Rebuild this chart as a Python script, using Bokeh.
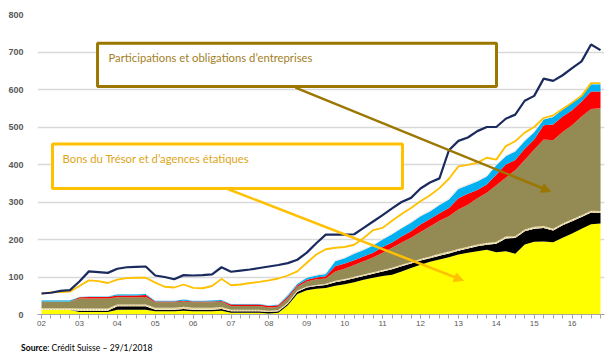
from bokeh.plotting import figure
from bokeh.layouts import column
from bokeh.models import (ColumnDataSource, Range1d, FixedTicker, BoxAnnotation,
                          Label, Arrow, NormalHead, Div)
from bokeh.transform import stack
from bokeh.core.properties import value
from bokeh.embed import file_html
from bokeh.resources import INLINE

# ---------------- data (quarterly, 2002Q1 .. 2016Q4) ----------------
quarters = [2002 + 0.25 * i for i in range(60)]
year_ticks = list(range(2002, 2017))
year_labels = ["02", "03", "04", "05", "06", "07", "08", "09", "10", "11",
               "12", "13", "14", "15", "16"]
y_ticks = [0, 100, 200, 300, 400, 500, 600, 700, 800]

# stacked layers (bottom -> top)
tresor = [12, 12, 12, 12, 7, 7, 7, 7, 13, 13, 13, 13, 9, 9, 9, 10, 9, 9, 9, 10,
          5, 5, 5, 5, 3, 5, 25, 55, 65, 69, 71, 77, 81, 86, 93, 98, 103, 106, 115, 124,
          133, 141, 147, 153, 160, 165, 169, 173, 166, 169, 162, 187, 194, 195, 193, 205, 216, 229, 241, 243]
noir = [0, 0, 0, 0, 3, 3, 3, 3, 9, 9, 9, 9, 4, 4, 4, 5, 4, 4, 4, 5,
        4, 4, 4, 4, 4, 4, 4, 6, 7, 7, 8, 9, 10, 11, 10, 11, 12, 15, 14, 12,
        11, 9, 10, 10, 10, 11, 13, 13, 23, 34, 42, 35, 35, 36, 31, 33, 33, 31, 31, 28]
rayure = [5, 5, 5, 5, 6, 6, 6, 6, 5, 5, 5, 5, 5, 5, 5, 6, 5, 5, 5, 5,
          4, 4, 4, 4, 3, 3, 3, 3, 3, 3, 3, 4, 4, 4, 4, 4, 4, 4, 4, 4,
          4, 5, 5, 5, 5, 5, 5, 5, 5, 5, 5, 5, 5, 5, 5, 5, 5, 5, 5, 5]
entreprises = [18, 18, 18, 18, 27, 27, 27, 27, 19, 19, 19, 20, 15, 15, 15, 14, 15, 15, 15, 14,
               10, 10, 10, 10, 9, 9, 12, 10, 13, 15, 14, 25, 27, 31, 35, 39, 46, 53, 59, 65,
               72, 80, 88, 94, 105, 112, 123, 134, 151, 157, 176, 185, 206, 231, 236, 244, 251, 263, 271, 274]
rouge = [0, 0, 0, 0, 3, 4, 4, 4, 5, 5, 5, 5, 2, 2, 2, 2, 2, 2, 2, 2,
         4, 4, 4, 4, 4, 4, 4, 4, 5, 5, 6, 14, 14, 13, 13, 13, 15, 14, 16, 17,
         20, 20, 20, 22, 30, 29, 22, 22, 28, 35, 27, 30, 27, 38, 42, 41, 40, 40, 47, 45]
bleu = [3, 3, 3, 3, 1, 1, 1, 1, 3, 3, 3, 3, 2, 2, 2, 3, 2, 2, 3, 3,
        1, 1, 1, 1, 1, 2, 4, 4, 5, 5, 6, 13, 14, 17, 17, 19, 20, 22, 22, 23,
        22, 20, 22, 23, 25, 23, 23, 21, 25, 22, 23, 21, 19, 15, 20, 19, 20, 17, 19, 19]
autres = [1, 1, 1, 1, 1, 1, 1, 1, 1, 1, 1, 1, 1, 1, 1, 1, 1, 1, 1, 1,
          1, 1, 1, 1, 1, 1, 3, 3, 3, 3, 3, 3, 3, 3, 3, 3, 3, 3, 3, 3,
          3, 3, 3, 3, 3, 3, 3, 3, 3, 3, 3, 3, 3, 3, 3, 3, 3, 3, 3, 3]

# lines
total_bleu_fonce = [56, 58, 63, 65, 88, 115, 113, 111, 122, 126, 127, 128, 104, 100, 94, 105, 104, 105, 107, 126,
                    114, 117, 120, 124, 128, 132, 137, 146, 165, 190, 213, 213, 213, 214, 231, 248, 265, 283, 300, 311,
                    336, 352, 363, 438, 463, 472, 489, 500, 500, 522, 533, 570, 583, 629, 623, 638, 657, 675, 720, 705]
ligne_orange = [56, 59, 60, 61, 76, 91, 89, 84, 93, 97, 98, 98, 85, 74, 72, 80, 71, 70, 76, 95,
                78, 80, 84, 87, 91, 96, 104, 115, 138, 160, 174, 178, 180, 186, 204, 225, 231, 250, 268, 284,
                302, 318, 337, 362, 395, 399, 405, 418, 413, 449, 462, 485, 500, 524, 531, 548, 565, 583, 617, 617]

src = ColumnDataSource(dict(x=quarters, tresor=tresor, noir=noir, rayure=rayure,
                            entreprises=entreprises, rouge=rouge, bleu=bleu, autres=autres,
                            total=total_bleu_fonce, orange=ligne_orange))

# ---------------- figure ----------------
p = figure(width=610, height=336, x_range=Range1d(2001.894, 2016.855), y_range=Range1d(0, 800),
           output_backend="svg", toolbar_location=None,
           min_border_left=37, min_border_right=6, min_border_top=14, min_border_bottom=22)
p.outline_line_color = None
p.background_fill_color = "white"
p.border_fill_color = "white"

p.xgrid.grid_line_color = None
p.ygrid.grid_line_color = "#D9D9D9"
p.ygrid.grid_line_width = 1.5

p.yaxis.ticker = FixedTicker(ticks=y_ticks)
p.yaxis.axis_line_color = None
p.yaxis.major_tick_line_color = None
p.yaxis.minor_tick_line_color = None
p.yaxis.major_label_standoff = 8
p.yaxis.major_label_text_font = "Liberation Sans"
p.yaxis.major_label_text_font_size = "9px"
p.yaxis.major_label_text_font_style = "bold"
p.yaxis.major_label_text_color = "#595959"

p.xaxis.ticker = FixedTicker(ticks=year_ticks, minor_ticks=quarters)
p.xaxis.major_label_overrides = {t: l for t, l in zip(year_ticks, year_labels)}
p.xaxis.axis_line_color = "#A6A6A6"
p.xaxis.axis_line_width = 1.2
p.xaxis.major_tick_line_color = "#A6A6A6"
p.xaxis.minor_tick_line_color = "#A6A6A6"
p.xaxis.major_tick_in = 0
p.xaxis.major_tick_out = 4
p.xaxis.minor_tick_in = 0
p.xaxis.minor_tick_out = 4
p.xaxis.major_label_standoff = 2
p.xaxis.major_label_text_font = "Liberation Sans"
p.xaxis.major_label_text_font_size = "8px"
p.xaxis.major_label_text_color = "#595959"

names = ["tresor", "noir", "rayure", "entreprises", "rouge", "bleu", "autres"]
colors = ["#FFFF00", "#000000", "#FFFDF0", "#948A54", "#FF0000", "#00B0F0", "#E6E6E6"]
for k, (n, c) in enumerate(zip(names, colors)):
    kw = {}
    if n == "rayure":
        kw = dict(hatch_pattern=value("right_diagonal_line"), hatch_color="#D9BE6A",
                  hatch_scale=3, hatch_weight=1)
    y1 = stack(*names[:k]) if k > 0 else 0
    p.varea(x="x", y1=y1, y2=stack(*names[:k + 1]), source=src, fill_color=c, **kw)

p.line("x", "orange", source=src, line_color="#FFC000", line_width=1.8)
p.line("x", "total", source=src, line_color="#1B2A5E", line_width=2.2)

# ---------------- annotations ----------------
c1_line, c1_text = "#9C7700", "#A3811F"
c2_line, c2_text = "#FFC000", "#DDA617"

p.add_layout(BoxAnnotation(left=2003.478, right=2014.005, top=723.5, bottom=608,
                           fill_color="white", fill_alpha=1, line_color=c1_line,
                           line_alpha=1, line_width=3))
p.add_layout(Label(x=2003.768, y=685, text="Participations et obligations d\u2019entreprises",
                   text_font="Lato", text_font_size="11.3px", text_color=c1_text,
                   text_baseline="middle"))
p.add_layout(Arrow(end=NormalHead(size=9, fill_color=c1_line, line_color=c1_line),
                   x_start=2008.70, y_start=605, x_end=2015.43, y_end=328,
                   line_color=c1_line, line_width=2.5))

p.add_layout(BoxAnnotation(left=2002.29, right=2011.525, top=454.7, bottom=336,
                           fill_color="white", fill_alpha=1, line_color=c2_line,
                           line_alpha=1, line_width=3))
p.add_layout(Label(x=2002.554, y=416, text="Bons du Tr\u00e9sor et d\u2019agences \u00e9tatiques",
                   text_font="Lato", text_font_size="11.3px", text_color=c2_text,
                   text_baseline="middle"))
p.add_layout(Arrow(end=NormalHead(size=9, fill_color=c2_line, line_color=c2_line),
                   x_start=2006.88, y_start=336, x_end=2013.13, y_end=90.7,
                   line_color=c2_line, line_width=2.5))

source_div = Div(text="<b>Source</b>: Cr\u00e9dit Suisse \u2013 29/1/2018", width=610, height=22,
                 styles={"font-family": "Lato", "font-size": "8.6px", "color": "#000000",
                         "line-height": "14px", "padding-top": "0px", "padding-left": "16px",
                         "box-sizing": "border-box"})

layout = column(p, source_div, spacing=0)
open("out.html", "w").write(file_html(layout, INLINE))
